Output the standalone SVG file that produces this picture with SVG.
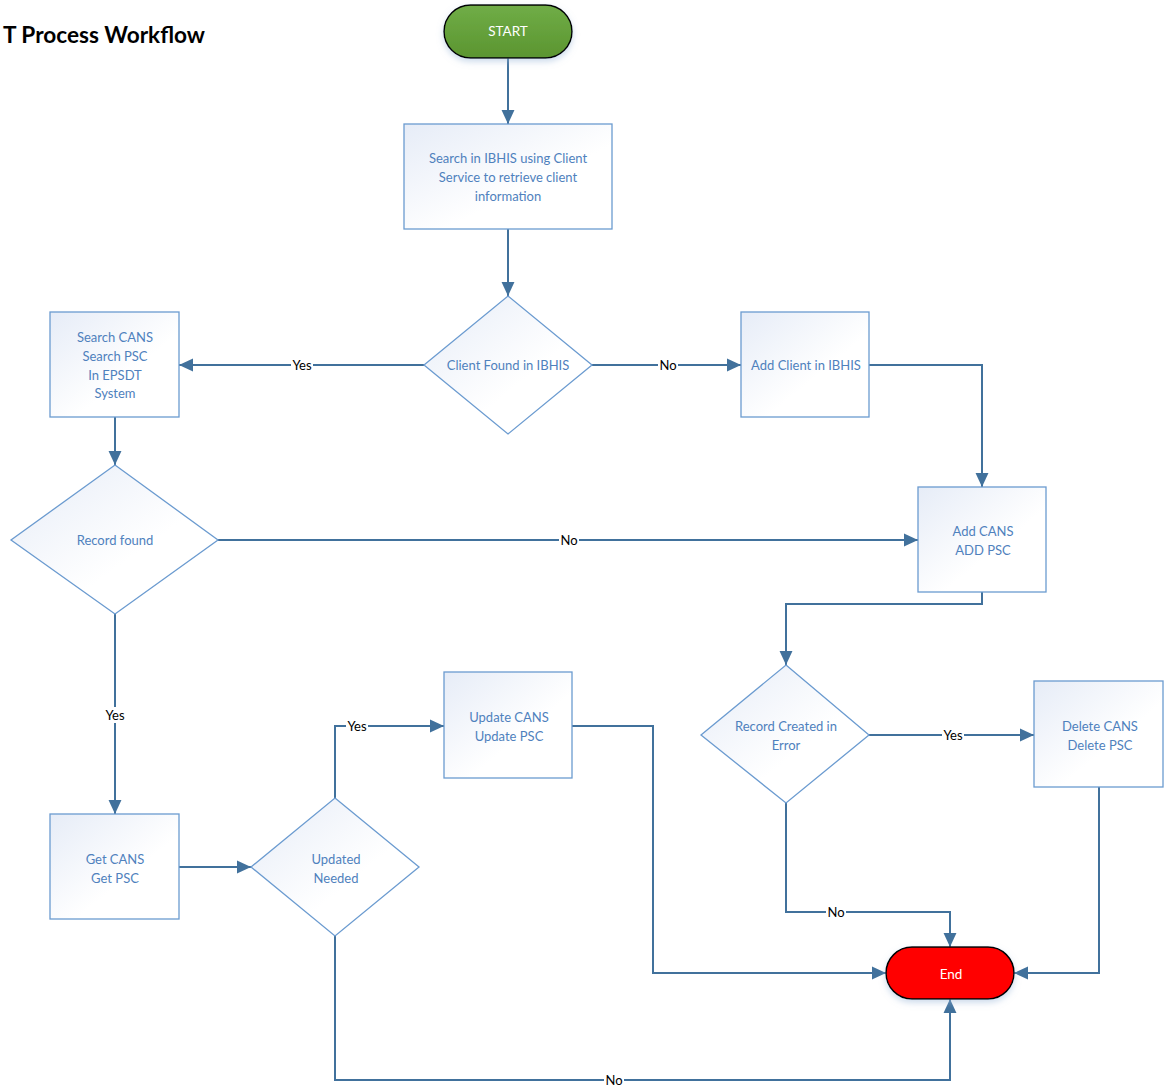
<svg xmlns="http://www.w3.org/2000/svg" width="1170" height="1086" viewBox="0 0 1170 1086">
<defs>
<linearGradient id="boxg" x1="0" y1="0" x2="1" y2="1">
<stop offset="0" stop-color="#e6ecf7"/>
<stop offset="0.6" stop-color="#ffffff"/>
</linearGradient>
<linearGradient id="greeng" x1="0" y1="0" x2="0" y2="1">
<stop offset="0" stop-color="#70ad47"/>
<stop offset="1" stop-color="#5b9530"/>
</linearGradient>
<filter id="sh" x="-20%" y="-20%" width="140%" height="160%">
<feDropShadow dx="0" dy="3" stdDeviation="3" flood-color="#9bb7d8" flood-opacity="0.5"/>
</filter>
<marker id="arr" markerWidth="14" markerHeight="14" viewBox="0 0 13 12" refX="13" refY="6" orient="auto" markerUnits="userSpaceOnUse">
<path d="M0,0 L13,6 L0,12 Z" fill="#41719c"/>
</marker>
</defs>
<style>
.box{fill:url(#boxg);stroke:#6b9bd0;stroke-width:1.3}
.t{font-family:Lato,"Open Sans","Liberation Sans",sans-serif;font-size:13px;fill:#4f81bd;text-anchor:middle}
.term{stroke:#000;stroke-width:1.5}
.tw{font-family:Lato,"Open Sans","Liberation Sans",sans-serif;font-size:13.5px;fill:#fff;text-anchor:middle}
.c{fill:none;stroke:#41719c;stroke-width:2}
.lbl{font-family:Lato,"Open Sans","Liberation Sans",sans-serif;font-size:13px;fill:#000;text-anchor:middle}
.lb{fill:#fff}
</style>
<rect width="1170" height="1086" fill="#fff"/>
<text x="3" y="43" font-family="Lato,'Open Sans','Liberation Sans',sans-serif" font-size="23" font-weight="bold" fill="#000" textLength="202" lengthAdjust="spacingAndGlyphs">T Process Workflow</text>

<g id="connectors">
<path class="c" d="M508,58 V124" marker-end="url(#arr)"/>
<path class="c" d="M508,229 V296" marker-end="url(#arr)"/>
<path class="c" d="M424,365 H179" marker-end="url(#arr)"/>
<path class="c" d="M592,365 H741" marker-end="url(#arr)"/>
<path class="c" d="M869,365 H982 V487" marker-end="url(#arr)"/>
<path class="c" d="M115,417 V465" marker-end="url(#arr)"/>
<path class="c" d="M218,540 H918" marker-end="url(#arr)"/>
<path class="c" d="M115,614 V814" marker-end="url(#arr)"/>
<path class="c" d="M179,867 H251" marker-end="url(#arr)"/>
<path class="c" d="M335,798 V726 H444" marker-end="url(#arr)"/>
<path class="c" d="M572,726 H653 V973 H886" marker-end="url(#arr)"/>
<path class="c" d="M335,936 V1080 H950 V999" marker-end="url(#arr)"/>
<path class="c" d="M982,592 V604 H786 V665" marker-end="url(#arr)"/>
<path class="c" d="M869,735 H1034" marker-end="url(#arr)"/>
<path class="c" d="M786,803 V912 H950 V947" marker-end="url(#arr)"/>
<path class="c" d="M1099,787 V973 H1014" marker-end="url(#arr)"/>
<rect class="lb" x="291" y="357" width="22" height="16"/><text class="lbl" x="302" y="370">Yes</text>
<rect class="lb" x="658" y="357" width="20" height="16"/><text class="lbl" x="668" y="370">No</text>
<rect class="lb" x="559" y="532" width="20" height="16"/><text class="lbl" x="569" y="545">No</text>
<rect class="lb" x="104" y="707" width="22" height="16"/><text class="lbl" x="115" y="720">Yes</text>
<rect class="lb" x="346" y="718" width="22" height="16"/><text class="lbl" x="357" y="731">Yes</text>
<rect class="lb" x="942" y="727" width="22" height="16"/><text class="lbl" x="953" y="740">Yes</text>
<rect class="lb" x="826" y="904" width="20" height="16"/><text class="lbl" x="836" y="917">No</text>
<rect class="lb" x="604" y="1072" width="20" height="14"/><text class="lbl" x="614" y="1085">No</text>
</g>

<g id="start">
<rect class="term" x="444" y="5" width="128" height="53" rx="26.5" fill="url(#greeng)" filter="url(#sh)"/>
<text class="tw" x="508" y="36">START</text>
</g>
<g id="search-ibhis">
<rect class="box" x="404" y="124" width="208" height="105"/>
<text class="t" x="508" y="163">Search in IBHIS using Client</text>
<text class="t" x="508" y="182">Service to retrieve client</text>
<text class="t" x="508" y="201">information</text>
</g>
<g id="client-found">
<polygon class="box" points="508,296 592,365 508,434 424,365"/>
<text class="t" x="508" y="370">Client Found in IBHIS</text>
</g>
<g id="search-cans">
<rect class="box" x="50" y="312" width="129" height="105"/>
<text class="t" x="115" y="342">Search CANS</text>
<text class="t" x="115" y="361">Search PSC</text>
<text class="t" x="115" y="380">In EPSDT</text>
<text class="t" x="115" y="398">System</text>
</g>
<g id="add-client">
<rect class="box" x="741" y="312" width="128" height="105"/>
<text class="t" x="806" y="370">Add Client in IBHIS</text>
</g>
<g id="record-found">
<polygon class="box" points="115,465 218,540 115,614 11,540"/>
<text class="t" x="115" y="545">Record found</text>
</g>
<g id="add-cans">
<rect class="box" x="918" y="487" width="128" height="105"/>
<text class="t" x="983" y="536">Add CANS</text>
<text class="t" x="983" y="555">ADD PSC</text>
</g>
<g id="record-error">
<polygon class="box" points="786,665 869,735 786,803 701,735"/>
<text class="t" x="786" y="731">Record Created in</text>
<text class="t" x="786" y="750">Error</text>
</g>
<g id="delete-cans">
<rect class="box" x="1034" y="681" width="129" height="106"/>
<text class="t" x="1100" y="731">Delete CANS</text>
<text class="t" x="1100" y="750">Delete PSC</text>
</g>
<g id="update-cans">
<rect class="box" x="444" y="672" width="128" height="106"/>
<text class="t" x="509" y="722">Update CANS</text>
<text class="t" x="509" y="741">Update PSC</text>
</g>
<g id="get-cans">
<rect class="box" x="50" y="814" width="129" height="105"/>
<text class="t" x="115" y="864">Get CANS</text>
<text class="t" x="115" y="883">Get PSC</text>
</g>
<g id="updated-needed">
<polygon class="box" points="335,798 419,867 335,936 251,867"/>
<text class="t" x="336" y="864">Updated</text>
<text class="t" x="336" y="883">Needed</text>
</g>
<g id="end">
<rect class="term" x="886" y="947" width="128" height="52" rx="26" fill="#ff0000" filter="url(#sh)"/>
<text class="tw" x="951" y="979">End</text>
</g>
</svg>
